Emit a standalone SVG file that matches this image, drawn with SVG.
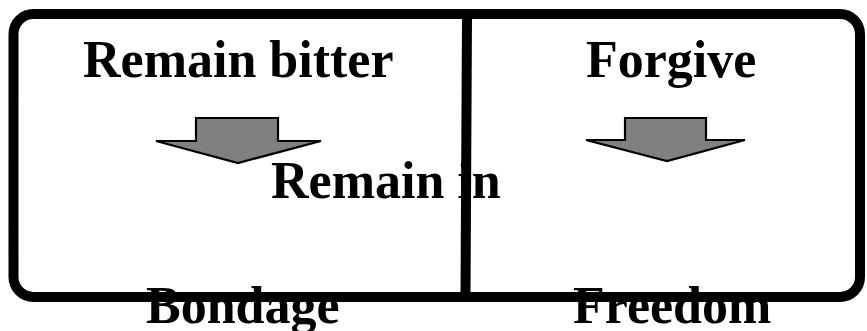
<svg xmlns="http://www.w3.org/2000/svg" width="867" height="331" viewBox="0 0 867 331">
<style>
.lbl{font-family:"Liberation Serif","Times New Roman",serif;font-weight:bold;font-size:52px;fill:#000}
.arr{fill:#808080;stroke:#000;stroke-width:2.2;stroke-linejoin:miter}
</style>
<rect width="867" height="331" fill="#fff"/>
<g id="frame">
<rect x="13.5" y="14" width="846.5" height="283" rx="20" ry="20" fill="none" stroke="#000" stroke-width="10"/>
<line x1="467" y1="16" x2="465.5" y2="295" stroke="#000" stroke-width="10"/>
</g>
<g id="left">
<text class="lbl" x="83" y="77">Remain bitter</text>
<polygon class="arr" points="196,118 278,118 278,141 321,141 238,163 156,141 196,141"/>
<text class="lbl" x="271" y="198">Remain in</text>
<text class="lbl" x="146" y="323">Bondage</text>
</g>
<g id="right">
<text class="lbl" x="586" y="77">Forgive</text>
<polygon class="arr" points="625,118 706,118 706,140 745,140 667,161 586,140 625,140"/>
<text class="lbl" x="573" y="323">Freedom</text>
</g>
</svg>
